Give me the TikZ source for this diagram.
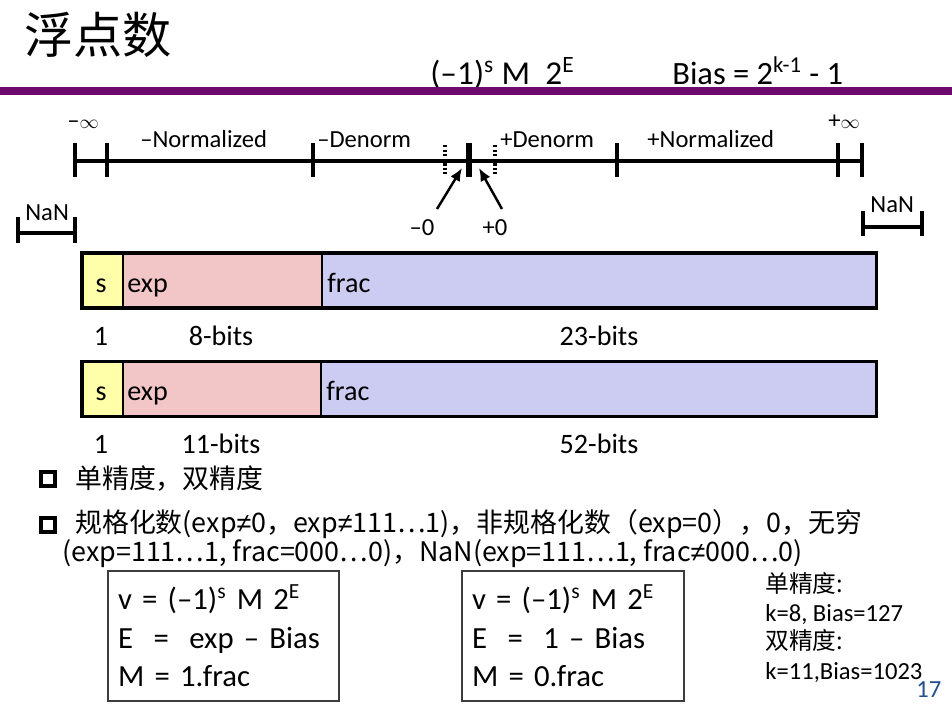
\documentclass[tikz,border=0pt]{standalone}
\usepackage{fontspec}
\setmainfont{Carlito}
\newfontfamily\cjk{Noto Sans CJK SC}
\newfontfamily\symf{Liberation Sans}
\newcommand{\neqsym}{{\symf ≠}}
\newcommand{\infsym}{{\fontsize{11}{12}\selectfont$\infty$}}
\usepackage{tikz}
\usetikzlibrary{
  arrows.meta,
  positioning,
  calc
}
\definecolor{SlidePurple}{RGB}{110,10,110}
\definecolor{SignYellow}{RGB}{255,255,170}
\definecolor{ExpPink}{RGB}{242,198,198}
\definecolor{FracBlue}{RGB}{204,204,242}
\definecolor{PageBlue}{RGB}{35,80,140}
\definecolor{BoxGray}{RGB}{60,60,60}
\tikzset{
  numline/.style={line width=2pt,draw=black},
  tickmark/.style={line width=2.4pt,draw=black},
  zerotick/.style={line width=3pt,draw=black},
  dotmark/.style={line width=1.8pt,dash pattern=on 1.3pt off 1.3pt,draw=black},
  zeroarrow/.style={-{Latex[length=2.6mm,width=2.2mm]},line width=1.4pt,draw=black},
  linelabel/.style={anchor=base west,inner sep=0pt,font=\fontsize{14}{16}\selectfont},
  field/.style={draw=black,line width=1.1pt,outer sep=0pt,minimum height=1.1cm,inner sep=0pt,font=\fontsize{16}{18}\selectfont},
  fieldtext/.style={anchor=base west,inner sep=0pt,font=\fontsize{16}{18}\selectfont},
  bitlabel/.style={anchor=base,inner sep=0pt,font=\fontsize{16}{18}\selectfont},
  bulletbox/.style={draw=black,line width=2.4pt,minimum size=0.28cm,inner sep=0pt},
  bullettext/.style={anchor=base west,inner sep=0pt,font=\cjk\fontsize{15.3}{18}\selectfont},
  formulabox/.style={draw=BoxGray,line width=1pt,minimum height=2.6cm,inner xsep=0.2cm,align=left,font=\fontsize{17.5}{22}\selectfont},
  sidenote/.style={anchor=base west,inner sep=0pt,font=\fontsize{14}{16}\selectfont}
}

\begin{document}
\begin{tikzpicture}[x=0.02cm,y=-0.02cm]
\useasboundingbox[fill=white] (0,0) rectangle (952,717);

% title and header
\node[anchor=base west,inner sep=0pt,font=\cjk\fontsize{28}{30}\selectfont] (title) at (24,53) {浮点数};
\node[anchor=base west,inner sep=0pt,font=\fontsize{19}{22}\selectfont] (vform) at (430,84) {(\textendash1)\textsuperscript{s} M\ \ 2\textsuperscript{E}};
\node[anchor=base west,inner sep=0pt,font=\fontsize{18.5}{22}\selectfont] (biasform) at (672,84) {Bias = 2\textsuperscript{k-1} - 1};
\fill[SlidePurple] (0,87) rectangle (952,95);

% number line
\foreach \x/\n in {75/ninf,107/nnorm,313/nden,617/pden,838/pnorm,862/pinf}
  \coordinate (\n) at (\x,161);
\coordinate (zero) at (469,161);
\draw[numline] (ninf) -- (pinf);
\foreach \n in {ninf,nnorm,nden,pden,pnorm,pinf}
  \draw[tickmark] ($(\n)+(0,-18)$) -- ($(\n)+(0,16)$);
\draw[zerotick] ($(zero)+(0,-18)$) -- ($(zero)+(0,16)$);
\coordinate (mdot) at (445,161);
\coordinate (pdot) at (495,161);
\draw[dotmark] ($(mdot)+(0,-16)$) -- ($(mdot)+(0,13)$);
\draw[dotmark] ($(pdot)+(0,-16)$) -- ($(pdot)+(0,13)$);

\node[linelabel] (lninf) at (67,128) {\textendash\infsym};
\node[linelabel] (lnnorm) at (140,147) {\textendash Normalized};
\node[linelabel] (lnden) at (317,147) {\textendash Denorm};
\node[linelabel] (lpden) at (500,147) {+Denorm};
\node[linelabel] (lpnorm) at (647,147) {+Normalized};
\node[linelabel] (lpinf) at (828,128) {+\infsym};

% zeros
\node[anchor=base,inner sep=0pt,font=\fontsize{14}{16}\selectfont] (mzlab) at (422,235) {\textendash0};
\node[anchor=base,inner sep=0pt,font=\fontsize{14}{16}\selectfont] (pzlab) at (495,235) {+0};
\coordinate (mzfoot) at (437,209);
\coordinate (mztip) at (462,168);
\coordinate (pzfoot) at (502,209);
\coordinate (pztip) at (479,168);
\draw[zeroarrow] (mzfoot) -- (mztip);
\draw[zeroarrow] (pzfoot) -- (pztip);

% NaN brackets
\coordinate (lnanl) at (18,233);
\coordinate (lnanr) at (75,233);
\draw[numline] (lnanl) -- (lnanr);
\draw[numline] ($(lnanl)+(0,-16)$) -- ($(lnanl)+(0,10)$);
\draw[numline] ($(lnanr)+(0,-16)$) -- ($(lnanr)+(0,10)$);
\node[linelabel] (lnan) at (25,220) {NaN};
\coordinate (rnanl) at (863,227);
\coordinate (rnanr) at (922,227);
\draw[numline] (rnanl) -- (rnanr);
\draw[numline] ($(rnanl)+(0,-16)$) -- ($(rnanl)+(0,9)$);
\draw[numline] ($(rnanr)+(0,-16)$) -- ($(rnanr)+(0,9)$);
\node[linelabel] (rnan) at (870,212) {NaN};

% single precision
\node[field,fill=SignYellow,minimum width=0.82cm,anchor=west] (s1) at (82,280.5) {};
\node[field,fill=ExpPink,minimum width=3.98cm,right=0pt of s1] (e1) {};
\node[field,fill=FracBlue,minimum width=11.1cm,right=0pt of e1] (f1) {};
\draw[line width=1.8pt] (s1.north west) rectangle (f1.south east);
\node[fieldtext,anchor=base] (s1t) at (101,292) {s};
\node[fieldtext] (e1t) at (127,292) {exp};
\node[fieldtext] (f1t) at (327,292) {frac};
\node[bitlabel] (n1s) at (101,345) {1};
\node[bitlabel] (n1e) at (221,345) {8-bits};
\node[bitlabel] (n1f) at (599,345) {23-bits};

% double precision
\node[field,fill=SignYellow,minimum width=0.82cm,anchor=west] (s2) at (82,389) {};
\node[field,fill=ExpPink,minimum width=3.96cm,right=0pt of s2] (e2) {};
\node[field,fill=FracBlue,minimum width=11.12cm,right=0pt of e2] (f2) {};
\draw[line width=1.8pt] (s2.north west) rectangle (f2.south east);
\node[fieldtext,anchor=base] (s2t) at (101,400) {s};
\node[fieldtext] (e2t) at (127,400) {exp};
\node[fieldtext] (f2t) at (326,400) {frac};
\node[bitlabel] (n2s) at (101,453) {1};
\node[bitlabel] (n2e) at (221,453) {11-bits};
\node[bitlabel] (n2f) at (599,453) {52-bits};

% bullets
\node[bulletbox] (b1) at (48,479) {};
\node[bullettext] (t1) at (75,488) {单精度，双精度};
\node[bulletbox] (b2) at (48,525) {};
\node[bullettext] (t2) at (75,532) {规格化数(exp\neqsym0，exp\neqsym111…1)，非规格化数（exp=0），0，无穷};
\node[bullettext] (t3) at (62,561) {(exp=111…1, frac=000…0)，NaN(exp=111…1, frac\neqsym000…0)};

% formulas
\node[formulabox,minimum width=4.62cm,text width=4.22cm] (normbox) at (223.5,636) {v = (\textendash1)\textsuperscript{s} M 2\textsuperscript{E}\\E\ \ =\ \ exp \textendash\ Bias\\M = 1.frac};
\node[formulabox,minimum width=4.44cm,text width=4.04cm] (denbox) at (573,636) {v = (\textendash1)\textsuperscript{s} M 2\textsuperscript{E}\\E\ \ =\ \ 1 \textendash\ Bias\\M = 0.frac};

% side notes
\node[sidenote,font=\cjk\fontsize{13.5}{16}\selectfont] (sp) at (765,592) {单精度:};
\node[sidenote] (spk) at (765,621) {k=8, Bias=127};
\node[sidenote,font=\cjk\fontsize{13.5}{16}\selectfont] (dp) at (765,649) {双精度:};
\node[sidenote] (dpk) at (765,679) {k=11,Bias=1023};
\node[sidenote,text=PageBlue] (page) at (916,697) {17};
\end{tikzpicture}
\end{document}
